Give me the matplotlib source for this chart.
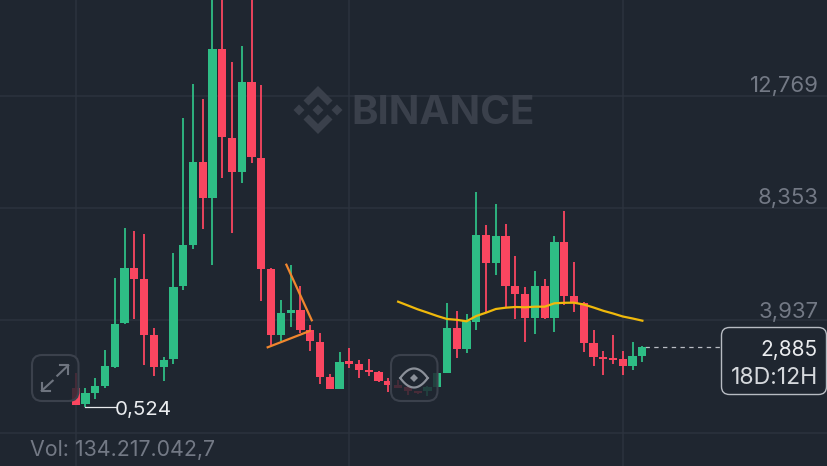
import numpy as np
import matplotlib
matplotlib.use('Agg')
import matplotlib.pyplot as plt
from matplotlib.patches import FancyBboxPatch, Polygon

BG = '#1F2630'
GRID = '#2C333E'
GREEN = '#2EBD85'
RED = '#FA4660'
MUTED = '#737985'

opens = [1.283, 0.642, 1.074, 1.373, 2.120, 3.819, 5.990, 5.557, 3.355, 2.097,
         2.411, 5.274, 6.918, 10.158, 8.754, 14.625, 11.125, 9.776, 13.304, 10.339,
         5.962, 3.355, 4.232, 4.362, 3.552, 3.092, 1.715, 1.255, 2.333, 2.226,
         1.990, 1.924, 1.558, 1.389, 1.334, 1.153, 1.153, 1.334, 1.873, 3.642,
         2.828, 3.878, 7.299, 6.198, 7.260, 5.305, 4.979, 4.035, 5.282, 4.047,
         7.012, 4.912, 4.613, 3.064, 2.502, 2.462, 2.411, 2.148, 2.541]
highs = [1.873, 1.294, 1.664, 2.777, 5.596, 7.574, 7.445, 7.327, 3.642, 2.513,
         6.591, 11.888, 13.225, 12.659, 17.33, 17.6, 14.090, 14.719, 17.13, 13.198,
         6.001, 4.755, 6.108, 5.282, 3.760, 3.434, 1.821, 2.710, 2.844, 2.372,
         2.411, 1.939, 1.664, 1.585, 1.373, 1.165, 1.349, 1.884, 4.625, 4.322,
         4.193, 9.002, 7.692, 8.518, 7.720, 6.485, 5.243, 5.872, 5.569, 7.260,
         8.243, 6.226, 4.676, 3.563, 2.738, 3.379, 2.726, 3.092, 2.934]
lows = [0.614, 0.524, 0.862, 1.283, 2.081, 3.811, 4.008, 2.199, 1.743, 1.546,
        2.226, 5.124, 6.760, 7.535, 6.131, 9.529, 7.378, 9.332, 10.119, 4.692,
        2.962, 3.119, 3.693, 3.445, 2.726, 1.440, 1.232, 1.243, 2.069, 1.664,
        1.766, 1.530, 1.137, 1.283, 1.019, 1.059, 0.980, 1.322, 1.861, 2.450,
        2.671, 3.575, 4.271, 5.738, 4.417, 3.996, 3.080, 3.418, 3.984, 3.497,
        4.535, 4.259, 2.698, 2.136, 1.806, 2.226, 1.794, 2.002, 2.293]
closes = [0.614, 1.074, 1.373, 2.136, 3.811, 5.990, 5.569, 3.367, 2.097, 2.395,
          5.266, 6.918, 10.158, 8.754, 14.625, 11.141, 9.776, 13.304, 10.354, 5.974,
          3.355, 4.232, 4.362, 3.552, 3.119, 1.727, 1.255, 2.305, 2.226, 1.990,
          1.924, 1.570, 1.389, 1.294, 1.153, 1.086, 1.334, 1.873, 3.642, 2.828,
          3.906, 7.299, 6.198, 7.260, 5.305, 4.991, 4.035, 5.282, 4.047, 7.012,
          4.912, 4.613, 3.064, 2.513, 2.423, 2.372, 2.148, 2.529, 2.885]

ma_start = 33
ma_values = [4.676, 4.527, 4.377, 4.248, 4.114, 3.996, 3.964, 3.905, 4.114, 4.244,
             4.389, 4.440, 4.468, 4.456, 4.480, 4.480, 4.613, 4.633, 4.637, 4.566,
             4.448, 4.318, 4.212, 4.094, 4.016, 3.929]

trend_x = [[21.56, 24.16], [19.65, 23.95]]
trend_y = [[6.131, 3.945], [2.883, 3.524]]

price_ticks = [12.769, 8.353, 3.937, -0.479]
price_labels = ['12,769', '8,353', '3,937']
time_ticks = [0, 28, 56]
last_price = 2.885
low_price = 0.524
low_index = 1

plt.rcParams['font.family'] = ['Inter', 'DejaVu Sans']

fig = plt.figure(figsize=(8.28, 4.66), dpi=100, facecolor=BG)
ax = fig.add_axes([0, 0, 1, 1], facecolor=BG)
ax.set_xlim(-7.75, 77.0)
ax.set_ylim(-1.785, 16.54)
ax.axis('off')

for p in price_ticks:
    ax.axhline(p, color=GRID, lw=1.1, zorder=1)
for t in time_ticks:
    ax.axvline(t, color=GRID, lw=1.1, zorder=1)

x = np.arange(len(opens))
o = np.array(opens)
c = np.array(closes)
colors = [GREEN if b >= a else RED for a, b in zip(opens, closes)]

ax.vlines(x, lows, highs, colors=colors, lw=1.3, zorder=3)
ax.bar(x, np.abs(c - o), bottom=np.minimum(o, c), width=0.84, color=colors, zorder=4)

ma_x = np.arange(ma_start, ma_start + len(ma_values))
ax.plot(ma_x, ma_values, color='#F0B90B', lw=1.6, zorder=5)
for tx, ty in zip(trend_x, trend_y):
    ax.plot(tx, ty, color='#F0862E', lw=1.6, zorder=5)

ax.plot([x[-1] + 0.3, 66.7], [last_price, last_price], color='#B9BDC4', lw=0.9,
        dashes=(3.5, 3.5), zorder=3)
ax.plot([low_index, 4.1], [low_price, low_price], color='#E8EAED', lw=0.9, zorder=5)

# everything else is placed in picture pixels
ov = fig.add_axes([0, 0, 1, 1])
ov.set_xlim(0, 828)
ov.set_ylim(466, 0)
ov.axis('off')
ov.patch.set_alpha(0)

for lab, yy in zip(price_labels, [86.5, 198.5, 311.5]):
    ov.text(818.5, yy, lab, color=MUTED, fontsize=15.9, ha='right', va='center')
ov.text(30, 449.5, 'Vol: 134.217.042,7', color=MUTED, fontsize=15.4, ha='left', va='center')
ov.text(115, 410, '0,524', color='#EAECEF', fontsize=14.8, ha='left', va='center')

box = FancyBboxPatch((721.5, 327.5), 105, 67, boxstyle='round,pad=0,rounding_size=8',
                     fc=BG, ec='#B7BBC2', lw=1.0, zorder=6)
ov.add_patch(box)
ov.text(818, 350, '2,885', color='#EAECEF', fontsize=15, ha='right', va='center', zorder=7)
ov.text(818, 378, '18D:12H', color='#D5D8DC', fontsize=16.6, ha='right', va='center', zorder=7)

# watermark
WM = '#3A404B'
ov.text(351, 110, 'BINANCE', color=WM, fontsize=29, fontweight='bold', ha='left',
        va='center_baseline', zorder=2)
lx, ly = 318, 110
for dx, dy, r in [(0, 0, 5.5), (-19, 0, 5.5), (19, 0, 5.5)]:
    ov.add_patch(Polygon([(lx + dx - r, ly + dy), (lx + dx, ly + dy - r),
                          (lx + dx + r, ly + dy), (lx + dx, ly + dy + r)], fc=WM, ec='none', zorder=2))
for s in (-1, 1):
    ov.add_patch(Polygon([(lx - 14.5, ly + s * 9.5), (lx, ly + s * 24), (lx + 14.5, ly + s * 9.5),
                          (lx + 9.5, ly + s * 4.5), (lx, ly + s * 14), (lx - 9.5, ly + s * 4.5)],
                         fc=WM, ec='none', zorder=2))

# buttons
for bx in (32, 391):
    ov.add_patch(FancyBboxPatch((bx, 355), 46.5, 46, boxstyle='round,pad=0,rounding_size=10',
                                fc=BG, alpha=0.82, ec='none', zorder=8))
    ov.add_patch(FancyBboxPatch((bx, 355), 46.5, 46, boxstyle='round,pad=0,rounding_size=10',
                                fc='none', ec='#3B414C', lw=1.5, zorder=9))

ICON = '#6E747F'
ov.plot([57.3, 68.3], [375.7, 365.3], color=ICON, lw=1.5, zorder=10)
ov.plot([60, 68.3, 68.3], [365.3, 365.3, 373.5], color=ICON, lw=1.5, zorder=10)
ov.plot([52.7, 41.7], [380.7, 390.7], color=ICON, lw=1.5, zorder=10)
ov.plot([41.7, 41.7, 50], [382.5, 390.7, 390.7], color=ICON, lw=1.5, zorder=10)

EYE = '#8B9099'
t = np.linspace(-1, 1, 40)
ov.plot(414 + 13.7 * t, 378 - 9.5 * (1 - t ** 2), color=EYE, lw=1.6, zorder=10)
ov.plot(414 + 13.7 * t, 378 + 9.5 * (1 - t ** 2), color=EYE, lw=1.6, zorder=10)
ov.add_patch(Polygon([(410, 378), (414, 374), (418, 378), (414, 382)], fc=EYE, ec='none', zorder=10))

fig.savefig('out.png', dpi=100, facecolor=BG)
